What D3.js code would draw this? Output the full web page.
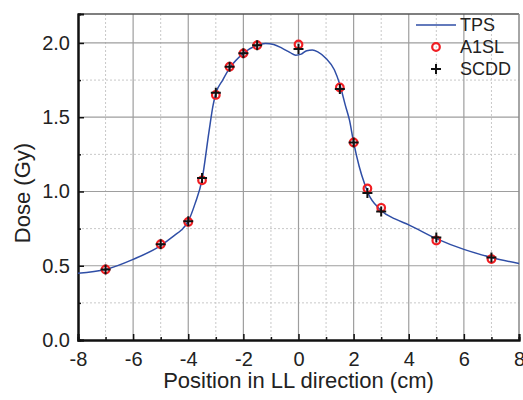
<!DOCTYPE html>
<html>
<head>
<meta charset="utf-8">
<script src="https://cdn.jsdelivr.net/npm/d3@7"></script>
<style>
  body { margin: 0; background: #fff; }
  svg text { font-family: "Liberation Sans", Arial, sans-serif; fill: #222; }
</style>
</head>
<body>
<div id="plot"></div>
<script>
// TPS profile (line)
const tpsX = [-8, -7, -6, -5, -4.5, -4.25, -4, -3.75, -3.5, -3.25, -3.1, -3, -2.75, -2.5, -2, -1.5, -1.2, -0.9, -0.6, -0.3, -0.1, 0.1, 0.3, 0.5, 0.7, 1.0, 1.3, 1.5, 1.7, 1.85, 2.0, 2.2, 2.4, 2.6, 2.8, 3.0, 3.5, 4, 5, 6, 7, 8];
const tpsY = [0.45, 0.475, 0.543, 0.635, 0.705, 0.74, 0.80, 0.92, 1.08, 1.40, 1.58, 1.66, 1.75, 1.83, 1.93, 1.985, 1.997, 1.99, 1.965, 1.935, 1.918, 1.925, 1.948, 1.952, 1.94, 1.895, 1.82, 1.72, 1.58, 1.48, 1.33, 1.17, 1.05, 0.96, 0.91, 0.87, 0.815, 0.775, 0.683, 0.61, 0.556, 0.515];

// measured points
const pointX = [-7, -5, -4, -3.5, -3, -2.5, -2, -1.5, 0, 1.5, 2, 2.5, 3, 5, 7];
const a1slY = [0.475, 0.645, 0.795, 1.075, 1.65, 1.84, 1.93, 1.985, 1.99, 1.70, 1.33, 1.02, 0.89, 0.67, 0.545];
const scddY = [0.475, 0.645, 0.80, 1.09, 1.665, 1.84, 1.93, 1.985, 1.96, 1.69, 1.33, 0.99, 0.865, 0.69, 0.556];

const xTicks = [-8, -6, -4, -2, 0, 2, 4, 6, 8];
const yTicks = [0.0, 0.5, 1.0, 1.5, 2.0];
const legendLabels = ['TPS', 'A1SL', 'SCDD'];

const width = 523, height = 400;
const margin = {top: 14, right: 4, bottom: 60, left: 78};
const w = width - margin.left - margin.right,
      h = height - margin.top - margin.bottom;

const svg = d3.select('#plot')
  .append('svg')
    .attr('width', width)
    .attr('height', height);

const g = svg.append('g')
  .attr('transform', 'translate(' + margin.left + ',' + margin.top + ')');

const x = d3.scaleLinear().domain([-8, 8]).range([0, w]);
const y = d3.scaleLinear().domain([0, 2.195]).range([h, 0]);

// minor grid (dotted)
const xMinor = d3.range(-7, 8, 2);
const yMinor = [0.25, 0.75, 1.25, 1.75];
g.append('g').selectAll('line')
  .data(xMinor).enter().append('line')
    .attr('x1', d => x(d)).attr('x2', d => x(d))
    .attr('y1', 0).attr('y2', h)
    .attr('stroke', '#c8c8c8').attr('stroke-dasharray', '2,2');
g.append('g').selectAll('line')
  .data(yMinor).enter().append('line')
    .attr('x1', 0).attr('x2', w)
    .attr('y1', d => y(d)).attr('y2', d => y(d))
    .attr('stroke', '#c8c8c8').attr('stroke-dasharray', '2,2');

// major grid
g.append('g').selectAll('line')
  .data(xTicks.slice(1, -1)).enter().append('line')
    .attr('x1', d => x(d)).attr('x2', d => x(d))
    .attr('y1', 0).attr('y2', h)
    .attr('stroke', '#9e9e9e').attr('stroke-width', 1.2);
g.append('g').selectAll('line')
  .data(yTicks.slice(1)).enter().append('line')
    .attr('x1', 0).attr('x2', w)
    .attr('y1', d => y(d)).attr('y2', d => y(d))
    .attr('stroke', '#9e9e9e').attr('stroke-width', 1.2);

// frame top/right
g.append('line').attr('x1', 0).attr('x2', w).attr('y1', 0).attr('y2', 0)
  .attr('stroke', '#555').attr('stroke-width', 1.5);
g.append('line').attr('x1', w).attr('x2', w).attr('y1', 0).attr('y2', h)
  .attr('stroke', '#888').attr('stroke-width', 1.5);

// axes with inward ticks
const xAxis = g.append('g')
  .attr('transform', 'translate(0,' + h + ')')
  .call(d3.axisBottom(x).tickValues(xTicks).tickSize(-6).tickPadding(12).tickFormat(d => String(d)));
const xAxisMinor = g.append('g')
  .attr('transform', 'translate(0,' + h + ')')
  .call(d3.axisBottom(x).tickValues(xMinor).tickSize(-3).tickFormat(''));
const yAxis = g.append('g')
  .call(d3.axisLeft(y).tickValues(yTicks).tickSize(-6).tickPadding(8).tickFormat(d3.format('.1f')));
const yAxisMinor = g.append('g')
  .call(d3.axisLeft(y).tickValues(yMinor).tickSize(-3).tickFormat(''));

[xAxis, xAxisMinor, yAxis, yAxisMinor].forEach(a => {
  a.select('.domain').attr('stroke', '#111').attr('stroke-width', 2);
  a.selectAll('.tick line').attr('stroke', '#111').attr('stroke-width', 1.5);
  a.selectAll('.tick text').style('font-size', '20px').attr('fill', '#222')
    .style('font-family', '"Liberation Sans", Arial, sans-serif');
});

// TPS line
const tpsData = tpsX.map((d, i) => [d, tpsY[i]]);
g.append('path')
  .datum(tpsData)
  .attr('fill', 'none')
  .attr('stroke', '#2f4ea6')
  .attr('stroke-width', 1.5)
  .attr('d', d3.line().x(d => x(d[0])).y(d => y(d[1])).curve(d3.curveMonotoneX));

// A1SL circles
g.append('g').selectAll('circle')
  .data(pointX.map((d, i) => [d, a1slY[i]]))
  .enter().append('circle')
    .attr('cx', d => x(d[0]))
    .attr('cy', d => y(d[1]))
    .attr('r', 3.8)
    .attr('fill', 'none')
    .attr('stroke', '#f01e23')
    .attr('stroke-width', 2.2);

// SCDD crosses
g.append('g').selectAll('path')
  .data(pointX.map((d, i) => [d, scddY[i]]))
  .enter().append('path')
    .attr('transform', d => 'translate(' + x(d[0]) + ',' + y(d[1]) + ')')
    .attr('d', 'M-5,0H5M0,-5V5')
    .attr('stroke', '#111')
    .attr('stroke-width', 2);

// legend
const legend = svg.append('g');
const lx = 416, ly = 25, lstep = 22;
legend.append('line')
  .attr('x1', lx).attr('x2', lx + 40).attr('y1', ly).attr('y2', ly)
  .attr('stroke', '#2f4ea6').attr('stroke-width', 1.5);
legend.append('circle')
  .attr('cx', lx + 20).attr('cy', ly + lstep).attr('r', 3.8)
  .attr('fill', 'none').attr('stroke', '#f01e23').attr('stroke-width', 2.2);
legend.append('path')
  .attr('transform', 'translate(' + (lx + 20) + ',' + (ly + 2 * lstep) + ')')
  .attr('d', 'M-5,0H5M0,-5V5')
  .attr('stroke', '#111').attr('stroke-width', 2);
legend.selectAll('text')
  .data(legendLabels).enter().append('text')
    .attr('x', lx + 44)
    .attr('y', (d, i) => ly + i * lstep)
    .attr('dy', '0.35em')
    .style('font-size', '18px')
    .text(d => d);

// axis titles
svg.append('text')
  .attr('x', margin.left + w / 2)
  .attr('y', 388)
  .attr('text-anchor', 'middle')
  .style('font-size', '22px')
  .text('Position in LL direction (cm)');

svg.append('text')
  .attr('transform', 'translate(30,193) rotate(-90)')
  .attr('text-anchor', 'middle')
  .style('font-size', '22px')
  .text('Dose (Gy)');
</script>
</body>
</html>
